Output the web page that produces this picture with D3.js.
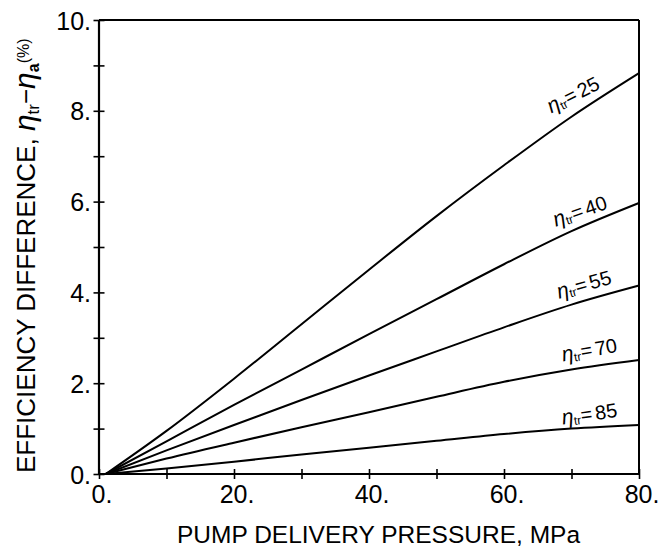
<!DOCTYPE html>
<html>
<head>
<meta charset="utf-8">
<script src="https://cdn.jsdelivr.net/npm/d3@7"></script>
<style>
  html, body { margin: 0; padding: 0; background: #fff; }
  svg { display: block; }
  text { font-family: "Liberation Sans", Arial, Helvetica, sans-serif; fill: #000; }
</style>
</head>
<body>
<svg id="chart" width="659" height="550"></svg>
<script>
// ---- data ----
const pressure = [1, 10, 20, 30, 40, 50, 60, 70, 80];          // MPa
const eff25 = [0, 0.95, 2.10, 3.30, 4.50, 5.68, 6.80, 7.87, 8.83];
const eff40 = [0, 0.72, 1.52, 2.30, 3.08, 3.85, 4.62, 5.35, 5.97];
const eff55 = [0, 0.52, 1.08, 1.63, 2.17, 2.70, 3.23, 3.73, 4.15];
const eff70 = [0, 0.34, 0.69, 1.03, 1.36, 1.70, 2.03, 2.30, 2.51];
const eff85 = [0, 0.12, 0.27, 0.43, 0.58, 0.73, 0.88, 1.00, 1.08];
const seriesNames = ["25", "40", "55", "70", "85"];
const seriesValues = [eff25, eff40, eff55, eff70, eff85];
// label anchor (end of text, in data units) and angle
const labelX = [74.4, 75.5, 76.1, 76.9, 76.9];
const labelY = [8.50, 5.85, 4.20, 2.69, 1.26];
const labelAngle = [-27, -19, -16, -10, -8];
const xTicks = [0, 10, 20, 30, 40, 50, 60, 70, 80];
const xTickLabels = ["0.", "", "20.", "", "40.", "", "60.", "", "80."];
const yTicks = [0, 1, 2, 3, 4, 5, 6, 7, 8, 9, 10];
const yTickLabels = ["0.", "", "2.", "", "4.", "", "6.", "", "8.", "", "10."];

// ---- layout ----
const mLeft = 99, mRight = 639, mTop = 20, mBottom = 474;
const svg = d3.select("#chart");
const x = d3.scaleLinear().domain([0, 80]).range([mLeft, mRight]);
const y = d3.scaleLinear().domain([0, 10]).range([mBottom, mTop]);
const FONT = '"Liberation Sans", Arial, sans-serif';

// frame (top and right)
svg.append("line").attr("x1", mLeft).attr("x2", mRight).attr("y1", mTop).attr("y2", mTop)
  .attr("stroke", "#000").attr("stroke-width", 2);
svg.append("line").attr("x1", mRight).attr("x2", mRight).attr("y1", mTop).attr("y2", mBottom)
  .attr("stroke", "#000").attr("stroke-width", 2);

// x axis
const xAxis = svg.append("g").attr("transform", `translate(0,${mBottom})`)
  .call(d3.axisBottom(x).tickValues(xTicks).tickSize(5)
    .tickFormat((d, i) => xTickLabels[i]));
xAxis.select(".domain").attr("stroke", "#000").attr("stroke-width", 2)
  .attr("d", `M${mLeft},0H${mRight}`);
xAxis.selectAll(".tick line").attr("y1", -5).attr("y2", 5).attr("stroke-width", 1.6);
xAxis.selectAll(".tick text").attr("y", 29).attr("dy", 0).attr("dx", "0.1em")
  .style("font-size", "25px").style("font-family", FONT);

// y axis
const yAxis = svg.append("g").attr("transform", `translate(${mLeft},0)`)
  .call(d3.axisLeft(y).tickValues(yTicks).tickSize(5)
    .tickFormat((d, i) => yTickLabels[i]));
yAxis.select(".domain").attr("stroke", "#000").attr("stroke-width", 2.2)
  .attr("d", `M0,${mBottom}V${mTop}`);
yAxis.selectAll(".tick line").attr("x1", -5.5).attr("x2", 5.5).attr("stroke-width", 1.6);
yAxis.selectAll(".tick text").attr("x", -8).attr("dy", "0.36em")
  .style("font-size", "25px").style("font-family", FONT);

// curves
const line = d3.line().x(d => x(d[0])).y(d => y(d[1])).curve(d3.curveMonotoneX);
seriesValues.forEach(vals => {
  svg.append("path")
    .datum(pressure.map((p, i) => [p, vals[i]]))
    .attr("d", line)
    .attr("fill", "none").attr("stroke", "#000").attr("stroke-width", 2);
});

// curve labels
seriesNames.forEach((name, i) => {
  const t = svg.append("text")
    .attr("transform", `translate(${x(labelX[i])},${y(labelY[i])}) rotate(${labelAngle[i]})`)
    .attr("text-anchor", "end").style("font-size", "20px");
  t.append("tspan").attr("font-style", "italic").style("font-size", "21px").text("η");
  t.append("tspan").style("font-size", "12px").attr("dy", 2).text("tr");
  t.append("tspan").attr("dy", -2).text("=");
  t.append("tspan").attr("dx", 3).text(name);
});

// axis titles
svg.append("text").attr("x", (175 + 582) / 2).attr("y", 543).attr("text-anchor", "middle")
  .style("font-size", "24.5px").text("PUMP DELIVERY PRESSURE, MPa");

const yt = svg.append("text")
  .attr("transform", `translate(35,473) rotate(-90)`)
  .attr("text-anchor", "start").style("font-size", "26px");
yt.append("tspan").text("EFFICIENCY DIFFERENCE, ");
yt.append("tspan").attr("font-style", "italic").style("font-size", "30px").text("η");
yt.append("tspan").style("font-size", "17px").attr("dy", 4).text("tr");
yt.append("tspan").attr("dy", -4).text("−");
yt.append("tspan").attr("font-style", "italic").style("font-size", "30px").text("η");
yt.append("tspan").style("font-size", "16px").attr("font-weight", "bold").attr("dy", 4).text("a");
yt.append("tspan").style("font-size", "16px").attr("dy", -10).text("(%)");
</script>
</body>
</html>
